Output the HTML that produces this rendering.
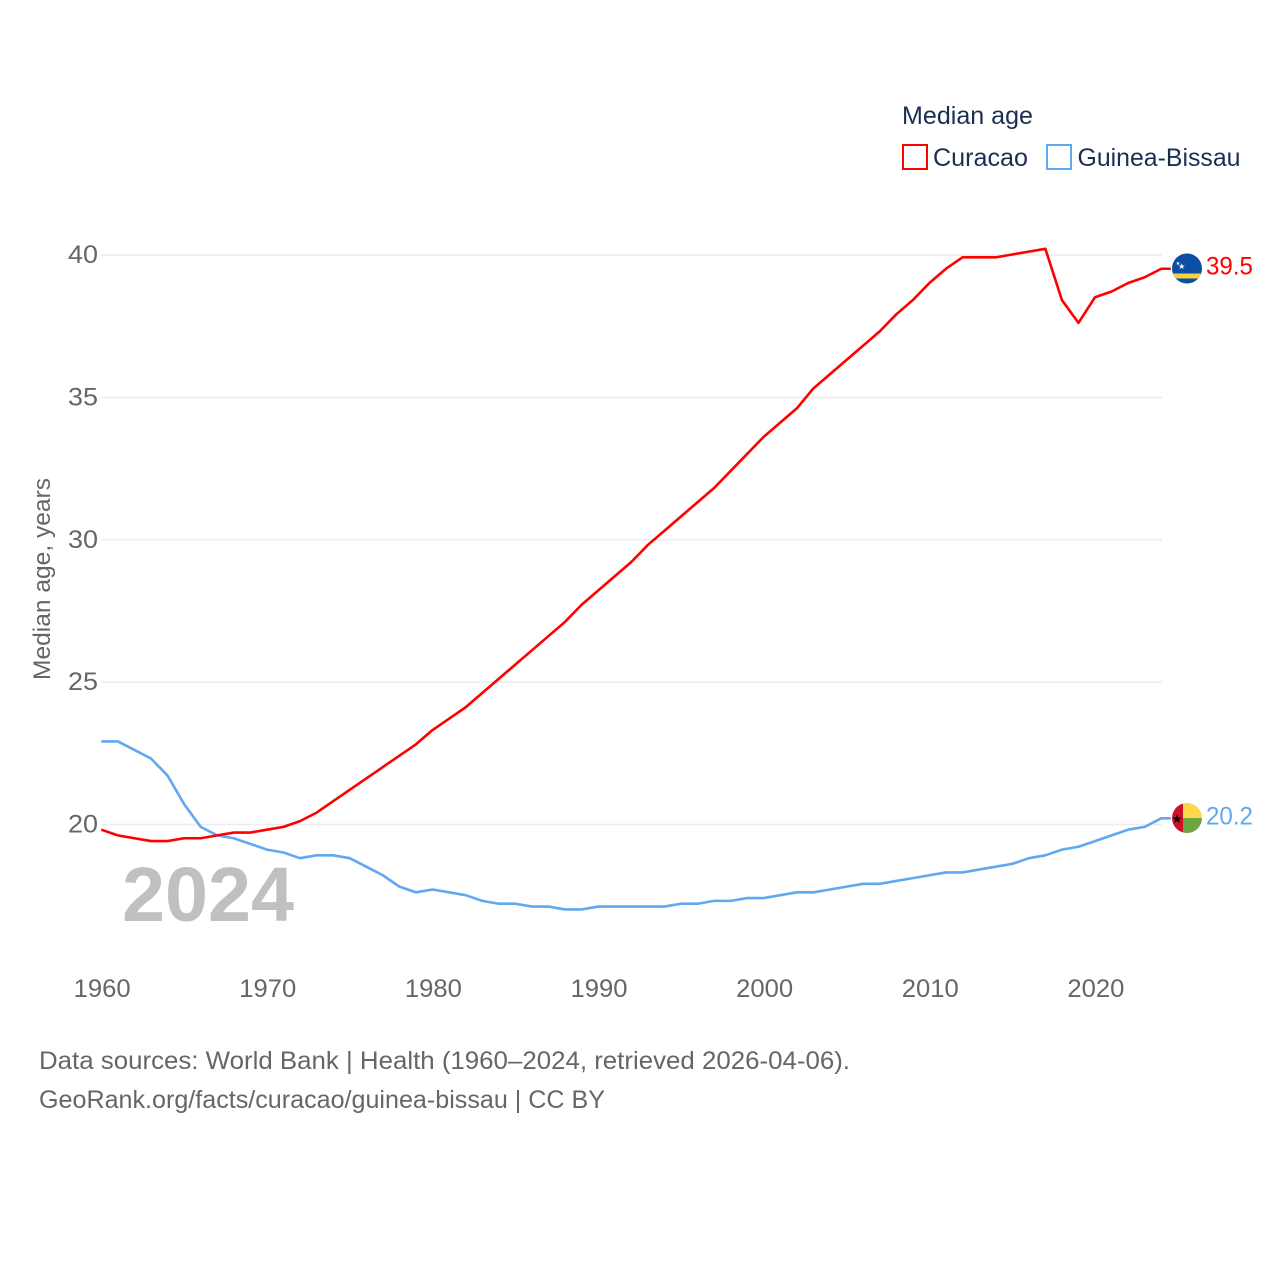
<!DOCTYPE html>
<html lang="en">
<head>
<meta charset="utf-8">
<title>Median age: Curacao vs Guinea-Bissau</title>
<style>
html,body{margin:0;padding:0;background:#fff;width:1280px;height:1280px;overflow:hidden}
svg{display:block}
text{font-family:"Liberation Sans",sans-serif}
</style>
</head>
<body>
<svg id="chart" xmlns="http://www.w3.org/2000/svg" width="1280" height="1280" viewBox="0 0 1280 1280">
  <defs>
    <clipPath id="flag-clip-a"><circle id="clip-a" cx="1187" cy="268.5" r="15"></circle></clipPath>
    <clipPath id="flag-clip-b"><circle id="clip-b" cx="1187" cy="818" r="15"></circle></clipPath>
  </defs>
  <g id="grid"></g>
  <g id="yticks"></g>
  <g id="xticks"></g>
  <text x="122" y="921" font-size="77" font-weight="700" fill="#c0c0c0" textLength="172" lengthAdjust="spacingAndGlyphs">2024</text>
  <g id="lines" transform="translate(-0.2,-0.5)"></g>
  <text transform="translate(50,680) rotate(-90)" font-size="24" fill="#666666" textLength="202" lengthAdjust="spacingAndGlyphs">Median age, years</text>

  <g>
    <text x="902" y="124" font-size="25" fill="#1a2f50" textLength="131" lengthAdjust="spacingAndGlyphs">Median age</text>
    <g>
      <rect x="903" y="145" width="24" height="24" fill="none" stroke="#ff0000" stroke-width="2"></rect>
      <text x="933" y="166" font-size="25" fill="#1a2f50" textLength="95" lengthAdjust="spacingAndGlyphs">Curacao</text>
    </g>
    <g>
      <rect x="1047" y="145" width="24" height="24" fill="none" stroke="#60a8f0" stroke-width="2"></rect>
      <text x="1077.5" y="166" font-size="25" fill="#1a2f50" textLength="163" lengthAdjust="spacingAndGlyphs">Guinea-Bissau</text>
    </g>
  </g>

  <g id="flag-a" clip-path="url(#flag-clip-a)">
    <rect x="1170" y="252" width="34" height="34" fill="#0b4ea2"></rect>
    <rect x="1170" y="273.5" width="34" height="5" fill="#f9d342"></rect>
    <text x="1181.7" y="269" font-size="8" text-anchor="middle" fill="#ffffff">★</text>
    <text x="1178" y="265" font-size="5" text-anchor="middle" fill="#ffffff">★</text>
  </g>
  <g id="flag-b" clip-path="url(#flag-clip-b)">
    <rect x="1183" y="802" width="21" height="16" fill="#ffd84a"></rect>
    <rect x="1183" y="818" width="21" height="16" fill="#6da544"></rect>
    <rect x="1170" y="802" width="13" height="32" fill="#ce1126"></rect>
    <text x="1177" y="823" font-size="12" text-anchor="middle" fill="#000000">★</text>
  </g>
  <g id="values"></g>

  <g>
    <text x="39" y="1069" font-size="25" fill="#666666" textLength="811" lengthAdjust="spacingAndGlyphs">Data sources: World Bank | Health (1960–2024, retrieved 2026-04-06).</text>
    <text x="39" y="1108" font-size="25" fill="#666666" textLength="566" lengthAdjust="spacingAndGlyphs">GeoRank.org/facts/curacao/guinea-bissau | CC BY</text>
  </g>
</svg>
<script>
const years = [1960,1961,1962,1963,1964,1965,1966,1967,1968,1969,1970,1971,1972,1973,1974,1975,1976,1977,1978,1979,1980,1981,1982,1983,1984,1985,1986,1987,1988,1989,1990,1991,1992,1993,1994,1995,1996,1997,1998,1999,2000,2001,2002,2003,2004,2005,2006,2007,2008,2009,2010,2011,2012,2013,2014,2015,2016,2017,2018,2019,2020,2021,2022,2023,2024];
const curacaoValues = [19.8,19.6,19.5,19.4,19.4,19.5,19.5,19.6,19.7,19.7,19.8,19.9,20.1,20.4,20.8,21.2,21.6,22.0,22.4,22.8,23.3,23.7,24.1,24.6,25.1,25.6,26.1,26.6,27.1,27.7,28.2,28.7,29.2,29.8,30.3,30.8,31.3,31.8,32.4,33.0,33.6,34.1,34.6,35.3,35.8,36.3,36.8,37.3,37.9,38.4,39.0,39.5,39.9,39.9,39.9,40.0,40.1,40.2,38.4,37.6,38.5,38.7,39.0,39.2,39.5];
const guineaBissauValues = [22.9,22.9,22.6,22.3,21.7,20.7,19.9,19.6,19.5,19.3,19.1,19.0,18.8,18.9,18.9,18.8,18.5,18.2,17.8,17.6,17.7,17.6,17.5,17.3,17.2,17.2,17.1,17.1,17.0,17.0,17.1,17.1,17.1,17.1,17.1,17.2,17.2,17.3,17.3,17.4,17.4,17.5,17.6,17.6,17.7,17.8,17.9,17.9,18.0,18.1,18.2,18.3,18.3,18.4,18.5,18.6,18.8,18.9,19.1,19.2,19.4,19.6,19.8,19.9,20.2];
const yTickValues = [20,25,30,35,40];
const xTickValues = [1960,1970,1980,1990,2000,2010,2020];

const NS = 'http://www.w3.org/2000/svg';
const xScale = function (year) { return 101.5 + (year - 1960) * (1161.5 - 101.5) / 64; };
const yScale = function (value) { return 824.5 - (value - 20) * (824.5 - 255) / 20; };

const grid = document.getElementById('grid');
const yticks = document.getElementById('yticks');
const xticks = document.getElementById('xticks');
const lines = document.getElementById('lines');
const valuesGroup = document.getElementById('values');

yTickValues.forEach(function (v) {
  const line = document.createElementNS(NS, 'line');
  
  
  line.setAttribute('x1', 101.5);
  line.setAttribute('x2', 1162);
  line.setAttribute('y1', yScale(v));
  line.setAttribute('y2', yScale(v));
  line.setAttribute('stroke', '#ececec');
  line.setAttribute('stroke-width', 1.5);
  grid.appendChild(line);

  const label = document.createElementNS(NS, 'text');
  
  
  label.setAttribute('x', 68);
  label.setAttribute('y', yScale(v) + 8);
  label.setAttribute('font-size', 25);
  label.setAttribute('fill', '#666666');
  label.setAttribute('textLength', 30);
  label.setAttribute('lengthAdjust', 'spacingAndGlyphs');
  label.textContent = String(v);
  yticks.appendChild(label);
});

xTickValues.forEach(function (t) {
  const label = document.createElementNS(NS, 'text');
  
  
  label.setAttribute('x', xScale(t) - 27.8);
  label.setAttribute('y', 997);
  label.setAttribute('font-size', 25);
  label.setAttribute('fill', '#666666');
  label.setAttribute('textLength', 57);
  label.setAttribute('lengthAdjust', 'spacingAndGlyphs');
  label.textContent = String(t);
  xticks.appendChild(label);
});

function drawSeries(values, color, lineName, labelName) {
  const last = values[values.length - 1];
  const pts = values.map(function (v, i) { return xScale(years[i]).toFixed(2) + ',' + yScale(v).toFixed(2); });
  pts.push('1171,' + yScale(last).toFixed(2));
  const path = document.createElementNS(NS, 'polyline');
  
  
  path.setAttribute('points', pts.join(' '));
  path.setAttribute('fill', 'none');
  path.setAttribute('stroke', color);
  path.setAttribute('stroke-width', 2.6);
  path.setAttribute('stroke-linejoin', 'round');
  lines.appendChild(path);

  const label = document.createElementNS(NS, 'text');
  
  
  label.setAttribute('x', 1206);
  label.setAttribute('y', yScale(last) + 5.5);
  label.setAttribute('font-size', 25);
  label.setAttribute('fill', color);
  label.setAttribute('textLength', 47);
  label.setAttribute('lengthAdjust', 'spacingAndGlyphs');
  label.textContent = last.toFixed(1);
  valuesGroup.appendChild(label);
}

drawSeries(guineaBissauValues, '#60a8f0', 'guinea-bissau-line', 'guinea-bissau-value-label');
drawSeries(curacaoValues, '#ff0000', 'curacao-line', 'curacao-value-label');
</script>
</body>
</html>
